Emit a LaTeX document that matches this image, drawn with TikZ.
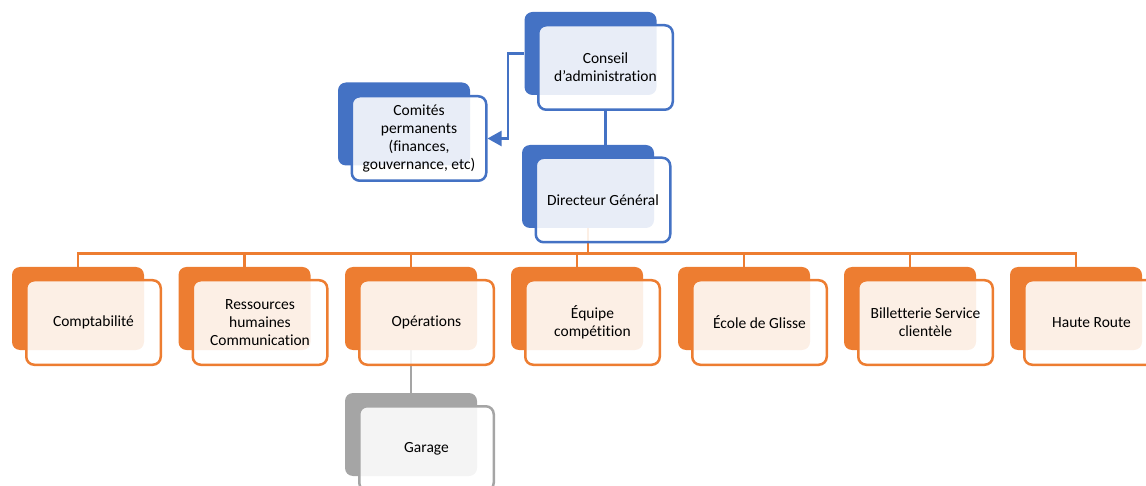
\documentclass[tikz,border=0pt]{standalone}
\usepackage{fontspec}
\setmainfont{Carlito}[Ligatures={NoCommon}]
\usetikzlibrary{arrows.meta}
\pgfdeclarelayer{bg}
\pgfsetlayers{bg,main}
\definecolor{bleu}{HTML}{4472C4}
\definecolor{orng}{HTML}{ED7D31}
\definecolor{gris}{HTML}{A5A5A5}

\begin{document}
\begin{tikzpicture}[x=1pt,y=-1pt,
  backbox/.style={fill=#1, rounded corners=8pt, minimum width=132pt, minimum height=83pt, inner sep=0pt},
  frontbox/.style={draw=#1, line width=2.5pt, fill=white, fill opacity=0.88, text opacity=1,
    rounded corners=8pt, minimum width=134.5pt, minimum height=84.5pt, align=center,
    font=\fontsize{15.5}{18}\selectfont, inner sep=2pt}]
            \useasboundingbox (0,0) rectangle (1146,486);

            \node[backbox=bleu] (cons-b) at (590.5,53.5) {};
            \node[frontbox=bleu] (cons) at (605.5,67.5) {Conseil\\d’administration};
            \node[backbox=bleu] (com-b) at (404,124) {};
            \node[frontbox=bleu] (com) at (419,138.5) {Comités\\permanents\\(finances,\\gouvernance, etc)};
            \node[backbox=bleu] (dir-b) at (588,186.5) {};
            \node[frontbox=bleu] (dir) at (603,200) {Directeur Général};

            \foreach \n/\x/\t in {compta/78/Comptabilité, rh/244.5/{Ressources\\humaines\\Communication},
                ops/411/Opérations, equipe/577/{Équipe\\compétition}, ecole/744/École de Glisse,
                billet/910/{Billetterie Service\\clientèle}, haute/1076/Haute Route} {
              \node[backbox=orng] (\n-b) at (\x,308.5) {};
              \node[frontbox=orng] (\n) at (\x+15.5,322.5) {\t};
            }

            \node[backbox=gris] (gar-b) at (411,434.5) {};
            \node[frontbox=gris] (gar) at (426.5,448.5) {Garage};

            \begin{pgfonlayer}{bg}
              \draw[bleu, line width=3pt] (cons.south) -- (cons.south |- dir-b.north);
              \draw[bleu, line width=2.2pt, -{Triangle[length=14pt,width=15pt]}] (cons-b.west) -- ++(-16,0) |- (com.east);
              \foreach \n in {compta,rh,ops,equipe,ecole,billet,haute}
                \draw[orng, line width=2.7pt] (dir-b.south) -- ++(0,25) -| (\n-b.north);
              \draw[gris, line width=2.7pt] (ops-b.south) -- (gar-b.north);
            \end{pgfonlayer}
        \end{tikzpicture}
\end{document}
